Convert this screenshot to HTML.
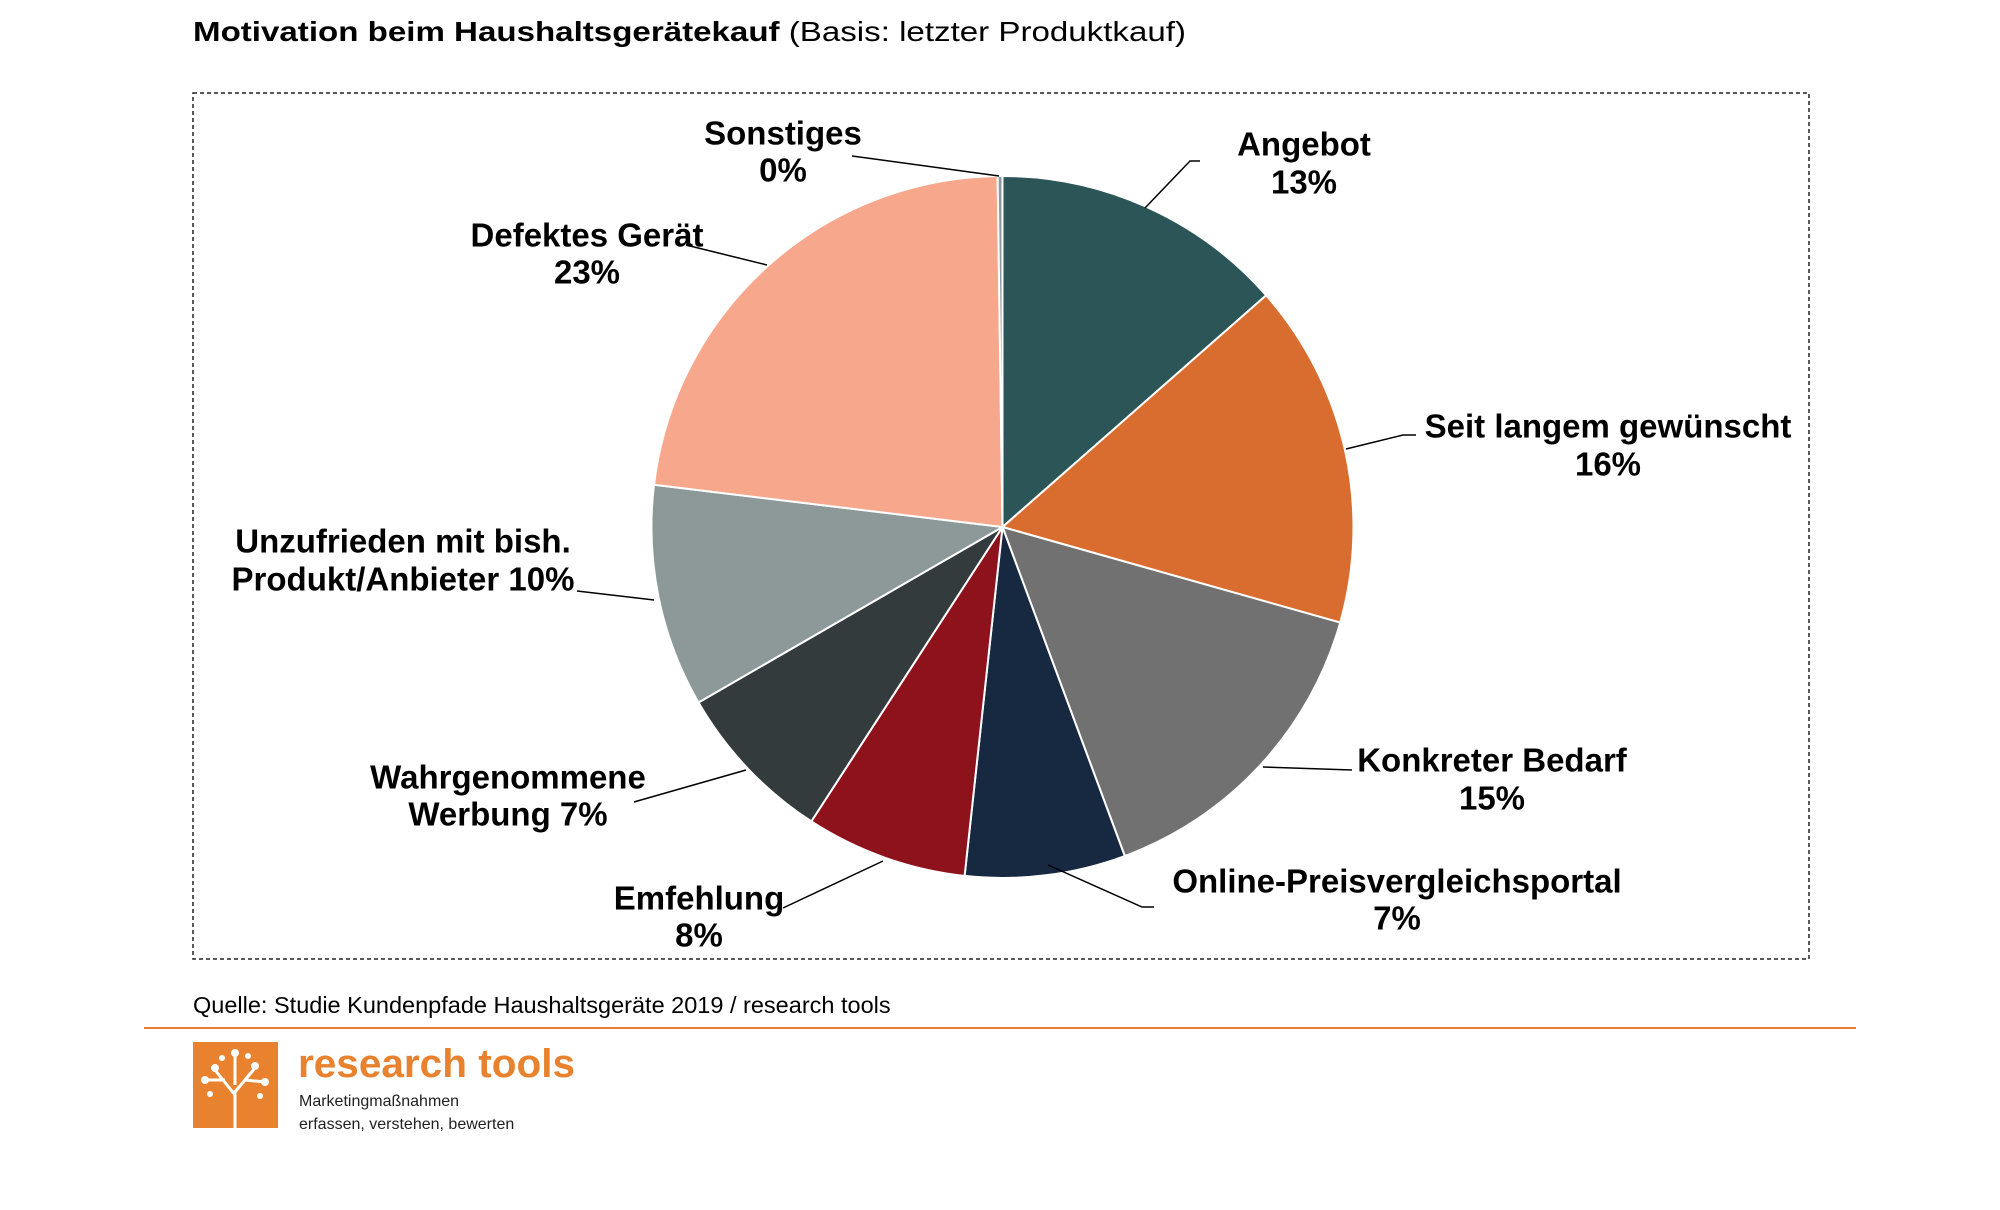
<!DOCTYPE html>
<html><head><meta charset="utf-8"><style>
html,body{margin:0;padding:0;background:#fff;}
svg{display:block;font-family:"Liberation Sans",Arial,sans-serif;}
</style></head><body>
<svg id="s" width="2000" height="1210" viewBox="0 0 2000 1210" xmlns="http://www.w3.org/2000/svg">
<rect width="2000" height="1210" fill="#fff"/>
<text x="193" y="41" font-size="28" textLength="993" lengthAdjust="spacingAndGlyphs"><tspan font-weight="bold">Motivation beim Haushaltsgerätekauf</tspan> (Basis: letzter Produktkauf)</text>
<rect x="193" y="93" width="1616" height="866" fill="none" stroke="#222" stroke-width="1.5" stroke-dasharray="4,3"/>
<g id="pie"></g>
<g stroke="#000" stroke-width="1.5" fill="none">
<polyline points="852,156 999,176"/>
<polyline points="1200,161 1190,161 1145,208"/>
<polyline points="1416,435 1403,435 1346,449"/>
<polyline points="1352,770 1263,767"/>
<polyline points="1154,907 1142,907 1048,865"/>
<polyline points="783,908 883,861"/>
<polyline points="634,802 746,770"/>
<polyline points="577,591 654,600"/>
<polyline points="686,245 767,265"/>
</g>
<g font-size="33" font-weight="bold" text-anchor="middle" fill="#000" dominant-baseline="central">
<text x="783" y="133">Sonstiges</text><text x="783" y="170">0%</text>
<text x="1304" y="144">Angebot</text><text x="1304" y="182">13%</text>
<text x="1608" y="426">Seit langem gewünscht</text><text x="1608" y="464">16%</text>
<text x="1492" y="760">Konkreter Bedarf</text><text x="1492" y="798">15%</text>
<text x="1397" y="881">Online-Preisvergleichsportal</text><text x="1397" y="918">7%</text>
<text x="699" y="898">Emfehlung</text><text x="699" y="935">8%</text>
<text x="508" y="777">Wahrgenommene</text><text x="508" y="814">Werbung  7%</text>
<text x="403" y="541">Unzufrieden mit bish.</text><text x="403" y="579">Produkt/Anbieter 10%</text>
<text x="587" y="235">Defektes Gerät</text><text x="587" y="272">23%</text>
</g>
<text x="193" y="1013" font-size="23.5">Quelle: Studie Kundenpfade Haushaltsgeräte 2019 / research tools</text>
<line x1="144" y1="1028" x2="1856" y2="1028" stroke="#e8822e" stroke-width="2"/>
<rect x="193" y="1042" width="85" height="86" fill="#e8822e"/>
<g stroke="#fff" stroke-width="3" fill="none">
<path d="M235,1128 L235,1090 M235,1095 L215,1070 M235,1092 L255,1068 M235,1085 L235,1055 M225,1080 L205,1080 M245,1080 L265,1082"/>
</g>
<g fill="#fff">
<circle cx="215" cy="1068" r="4"/><circle cx="255" cy="1066" r="4"/><circle cx="235" cy="1053" r="4"/><circle cx="205" cy="1080" r="4"/><circle cx="265" cy="1082" r="4"/><circle cx="222" cy="1058" r="3"/><circle cx="248" cy="1056" r="3"/><circle cx="210" cy="1094" r="3"/><circle cx="260" cy="1096" r="3"/>
</g>
<text x="298" y="1077" font-size="40" font-weight="bold" fill="#e8822e" textLength="277" lengthAdjust="spacingAndGlyphs">research tools</text>
<text x="299" y="1106" font-size="16" fill="#222">Marketingmaßnahmen</text>
<text x="299" y="1129" font-size="16" fill="#222">erfassen, verstehen, bewerten</text>
</svg>
<script>
var cx=1002.5,cy=527,r=351;
var d=[[0,48.7,"#2c5558"],[48.7,105.8,"#d96d2f"],[105.8,159.6,"#717171"],[159.6,186.2,"#172841"],[186.2,213,"#8e121c"],[213,240,"#343b3d"],[240,276.9,"#8c9998"],[276.9,359.2,"#f6a78c"],[359.2,360,"#8c9998"]];
var g=document.getElementById("pie"),h="";
function p(a){a=a*Math.PI/180;return (cx+r*Math.sin(a)).toFixed(1)+","+(cy-r*Math.cos(a)).toFixed(1);}
d.forEach(function(s){var la=(s[1]-s[0])>180?1:0;h+='<path d="M'+cx+','+cy+' L'+p(s[0])+' A'+r+','+r+' 0 '+la+' 1 '+p(s[1])+' Z" fill="'+s[2]+'" stroke="#fff" stroke-width="2"/>';});
g.innerHTML=h;
</script>
</body></html>
